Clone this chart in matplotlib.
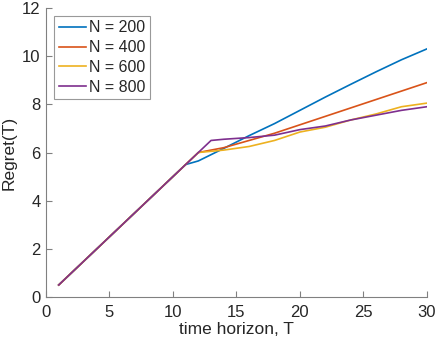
import matplotlib
matplotlib.use("Agg")
import matplotlib.pyplot as plt

# time horizon grid shared by all series
T = [1, 2, 3, 4, 5, 6, 7, 8, 9, 10, 11, 12, 13, 14, 16, 18, 20, 22, 24, 26, 28, 30]

regret_200 = [0.5, 1.0, 1.5, 2.0, 2.5, 3.0, 3.5, 4.0, 4.5, 5.0, 5.5,
              5.65, 5.91, 6.17, 6.7, 7.2, 7.75, 8.3, 8.83, 9.35, 9.85, 10.3]
regret_400 = [0.5, 1.0, 1.5, 2.0, 2.5, 3.0, 3.5, 4.0, 4.5, 5.0, 5.5,
              6.0, 6.1, 6.2, 6.5, 6.8, 7.15, 7.5, 7.85, 8.2, 8.55, 8.9]
regret_600 = [0.5, 1.0, 1.5, 2.0, 2.5, 3.0, 3.5, 4.0, 4.5, 5.0, 5.5,
              6.0, 6.05, 6.1, 6.25, 6.5, 6.85, 7.05, 7.35, 7.6, 7.9, 8.05]
regret_800 = [0.5, 1.0, 1.5, 2.0, 2.5, 3.0, 3.5, 4.0, 4.5, 5.0, 5.5,
              6.0, 6.5, 6.55, 6.62, 6.72, 6.95, 7.1, 7.35, 7.55, 7.75, 7.9]

LABELS = ["N = 200", "N = 400", "N = 600", "N = 800"]
COLORS = ["#0072BD", "#D95319", "#EDB120", "#7E2F8E"]

plt.rcParams["font.family"] = ["Liberation Sans", "DejaVu Sans"]

fig = plt.figure(figsize=(4.36, 3.47), dpi=100)
ax = fig.add_axes([0.1055, 0.144, 0.8735, 0.833])

for vals, label, color in zip([regret_200, regret_400, regret_600, regret_800], LABELS, COLORS):
    ax.plot(T, vals, color=color, linewidth=1.2, label=label)

ax.set_xlim(0, 30)
ax.set_ylim(0, 12)
ax.set_xticks([0, 5, 10, 15, 20, 25, 30])
ax.set_yticks([0, 2, 4, 6, 8, 10, 12])

axis_gray = "#262626"
for side in ("top", "right"):
    ax.spines[side].set_visible(False)
for side in ("left", "bottom"):
    ax.spines[side].set_color("#808080")
    ax.spines[side].set_linewidth(0.8)
ax.tick_params(direction="in", length=4, width=0.8, color="#808080",
               labelsize=12, labelcolor=axis_gray)
ax.tick_params(axis="x", pad=6)
ax.tick_params(axis="y", pad=4)

ax.set_xlabel("time horizon, T", fontsize=12.5, color=axis_gray, labelpad=1)
ax.set_ylabel("Regret(T)", fontsize=12.5, color=axis_gray, labelpad=4)

leg = ax.legend(loc="upper left", bbox_to_anchor=(0.012, 0.985), fontsize=11.5,
                frameon=True, fancybox=False, handlelength=1.7, handletextpad=0.2,
                labelspacing=0.3, borderpad=0.3, borderaxespad=0.2)
leg.get_frame().set_edgecolor("#808080")
leg.get_frame().set_linewidth(0.8)
for text in leg.get_texts():
    text.set_color(axis_gray)

fig.savefig("out.png", dpi=100)
